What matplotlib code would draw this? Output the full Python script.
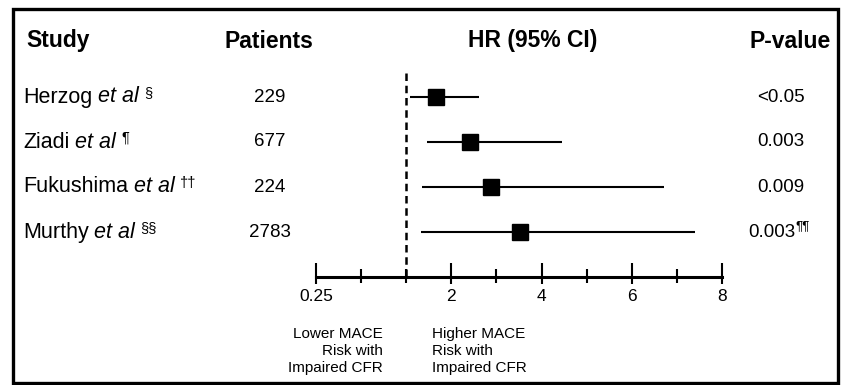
import numpy as np
import matplotlib
matplotlib.use("Agg")
import matplotlib.pyplot as plt
from matplotlib.transforms import blended_transform_factory
from matplotlib.patches import Rectangle

plt.rcParams['font.family'] = ['Liberation Sans', 'DejaVu Sans']

# ---------------- data ----------------
study_names = ["Herzog", "Ziadi", "Fukushima", "Murthy"]
study_marks = ["§", "¶", "††", "§§"]
patients = ["229", "677", "224", "2783"]
hr = [1.67, 2.41, 2.89, 3.52]
ci_low = [1.09, 1.46, 1.36, 1.33]
ci_high = [2.62, 4.46, 6.72, 7.41]
p_values = ["<0.05", "0.003", "0.009", "0.003"]
p_marks = ["", "", "", "¶¶"]
major_ticks = [0.25, 2, 4, 6, 8]
major_labels = ["0.25", "2", "4", "6", "8"]
minor_ticks = [0.5, 1, 3, 5, 7]
headers = ["Study", "Patients", "HR (95% CI)", "P-value"]
lower_note = "Lower MACE\nRisk with\nImpaired CFR"
higher_note = "Higher MACE\nRisk with\nImpaired CFR"

W, H = 842, 385
fig = plt.figure(figsize=(W / 100, H / 100), dpi=100)


def fx(px):
    return px / W


def fy(py):
    return 1 - py / H


def fwd(v):
    v = np.asarray(v, dtype=float)
    safe = np.maximum(v, 1e-9)
    return np.where(v >= 1, v, 1 + np.log2(safe))


def inv(u):
    u = np.asarray(u, dtype=float)
    return np.where(u >= 1, u, 2.0 ** (u - 1))


rect = [fx(316), fy(277), fx(722 - 316), (277 - 70) / H]

# forest axes
ax = fig.add_axes(rect)
ax.set_xscale('function', functions=(fwd, inv))
ax.set_xlim(0.25, 8)
ax.set_ylim(4.0, -0.6)

rows = np.arange(len(study_names))
ax.hlines(rows, ci_low, ci_high, color='black', lw=1.5)
ax.plot(hr, rows, 's', color='black', markersize=11.5, zorder=3)
ax.plot([1, 1], [-0.53, 4.0], color='black', lw=1.8, dashes=(3.0, 1.9))

for s in ['top', 'left', 'right']:
    ax.spines[s].set_visible(False)
ax.spines['bottom'].set_linewidth(2.2)
ax.set_yticks([])
ax.set_xticks(major_ticks)
ax.set_xticklabels(major_labels, fontsize=12.5)
ax.set_xticks(minor_ticks, minor=True)
ax.tick_params(axis='x', which='major', direction='out', length=5, width=1.5, pad=3.5)
ax.tick_params(axis='x', which='minor', direction='out', length=4, width=1.5)
ax.patch.set_visible(False)

# overlay axes for the upward part of the ticks
ax2 = fig.add_axes(rect, sharex=ax)
ax2.set_ylim(4.0, -0.6)
for s in ax2.spines.values():
    s.set_visible(False)
ax2.set_yticks([])
ax2.tick_params(axis='x', which='major', direction='in', length=10, width=1.5,
                labelbottom=False)
ax2.tick_params(axis='x', which='minor', direction='in', length=5.8, width=1.5,
                labelbottom=False)
ax2.patch.set_visible(False)

# headers
hy = fy(41)
fig.text(fx(26), hy, headers[0], fontsize=16.5, fontweight='bold', ha='left', va='center')
fig.text(fx(269), hy, headers[1], fontsize=16.5, fontweight='bold', ha='center', va='center')
fig.text(fx(533), hy, headers[2], fontsize=16.5, fontweight='bold', ha='center', va='center')
fig.text(fx(790), hy, headers[3], fontsize=16.5, fontweight='bold', ha='center', va='center')

# row texts aligned with the forest rows
tr = blended_transform_factory(fig.transFigure, ax.transData)
for i, r in enumerate(rows):
    t1 = fig.text(fx(23), r, study_names[i], transform=tr, fontsize=15.5,
                  ha='left', va='center')
    t2 = ax.annotate("et al", xy=(1, 0), xycoords=t1, xytext=(4, 0),
                     textcoords='offset points', fontsize=15.5, style='italic',
                     ha='left', va='bottom', annotation_clip=False)
    ax.annotate(study_marks[i], xy=(1, 0), xycoords=t2, xytext=(4, 5.5),
                textcoords='offset points', fontsize=10.5, ha='left',
                va='bottom', annotation_clip=False)
    fig.text(fx(270), r, patients[i], transform=tr, fontsize=13.5,
             ha='center', va='center')
    if p_marks[i]:
        tp = fig.text(fx(795), r, p_values[i], transform=tr, fontsize=13.5,
                      ha='right', va='center')
        ax.annotate(p_marks[i], xy=(1, 0), xycoords=tp, xytext=(0, 6),
                    textcoords='offset points', fontsize=9.5, ha='left',
                    va='bottom', annotation_clip=False)
    else:
        fig.text(fx(781), r, p_values[i], transform=tr, fontsize=13.5,
                 ha='center', va='center')

# notes
fig.text(fx(383), fy(351), lower_note, fontsize=11, ha='right', va='center',
         multialignment='right', linespacing=1.28)
fig.text(fx(432), fy(351), higher_note, fontsize=11, ha='left', va='center',
         multialignment='left', linespacing=1.28)

# outer frame
fig.patches.append(Rectangle((fx(13), fy(383)), fx(838 - 13), (383 - 8.5) / H,
                             transform=fig.transFigure, fill=False,
                             edgecolor='black', lw=2.4))

fig.savefig("out.png", dpi=100)
